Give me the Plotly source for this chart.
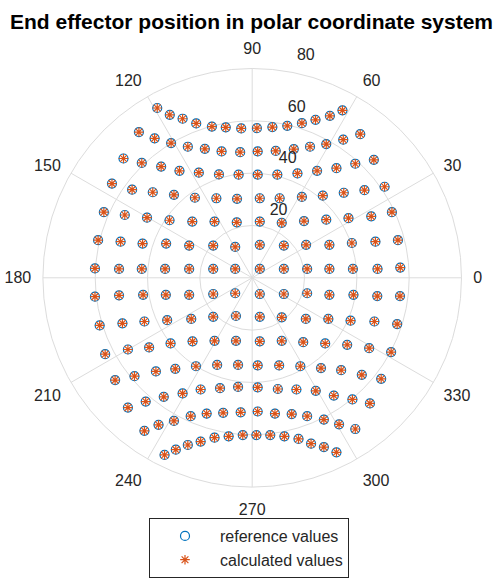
import numpy as np
import plotly.graph_objects as go

# End effector positions (Cartesian, same units as the radial axis), one list per row
x_pos = [
    [-36.3, -31.5, -26.6, -21.4, -15.4, -10.1, -4.2, 1.8, 7.7, 13.4, 19.0, 24.2, 29.7, 34.5],
    [-43.3, -37.3, -31.0, -24.6, -18.1, -11.7, -4.6, 2.1, 9.0, 15.9, 22.1, 28.3, 34.8, 41.3],
    [-49.2, -42.2, -34.8, -27.8, -20.4, -12.7, -5.2, 2.1, 9.6, 17.3, 24.8, 32.2, 39.4, 46.5],
    [-53.6, -45.9, -38.0, -29.9, -21.9, -13.7, -5.8, 2.9, 10.5, 19.0, 27.0, 35.0, 42.9, 50.6],
    [-56.7, -48.7, -40.2, -31.6, -22.9, -14.4, -5.9, 2.9, 11.3, 19.8, 28.3, 36.8, 45.5, 53.4],
    [-58.9, -50.3, -41.9, -32.9, -24.1, -14.9, -6.5, 2.9, 12.1, 20.6, 29.5, 38.1, 47.1, 55.7],
    [-60.1, -50.9, -42.2, -33.3, -24.1, -14.9, -6.5, 2.9, 12.1, 21.0, 29.5, 38.5, 47.9, 56.6],
    [-60.1, -50.9, -41.7, -33.0, -24.1, -14.9, -6.5, 2.9, 12.1, 21.0, 29.5, 38.7, 47.8, 56.5],
    [-58.3, -49.6, -41.2, -32.5, -23.3, -14.9, -6.2, 2.9, 11.3, 20.5, 29.1, 37.6, 46.7, 55.4],
    [-56.2, -47.5, -39.4, -31.2, -22.8, -14.4, -6.2, 2.9, 11.3, 19.5, 27.9, 36.3, 44.7, 53.1],
    [-52.4, -45.0, -36.8, -29.4, -21.5, -13.4, -5.4, 2.1, 10.3, 18.4, 26.3, 34.0, 41.9, 49.3],
    [-47.5, -40.7, -33.8, -26.6, -19.7, -12.3, -5.4, 2.1, 9.8, 16.9, 24.3, 31.2, 38.3, 45.0],
    [-41.2, -35.8, -29.9, -23.5, -17.4, -11.1, -4.4, 2.1, 8.7, 15.1, 21.0, 27.4, 33.2, 39.4],
    [-33.5, -29.2, -24.6, -19.7, -14.4, -9.0, -3.6, 1.6, 6.9, 12.3, 17.7, 22.5, 27.4, 32.2],
]
y_pos = [
    [64.9, 62.3, 60.8, 59.0, 57.8, 57.5, 57.1, 57.2, 57.6, 58.1, 59.1, 60.4, 61.9, 64.0],
    [55.7, 53.3, 51.5, 50.1, 49.3, 48.3, 48.0, 48.3, 48.5, 49.2, 50.1, 51.1, 52.8, 54.9],
    [45.6, 43.9, 42.5, 40.9, 40.2, 39.5, 39.4, 39.4, 39.4, 39.9, 40.9, 41.9, 43.6, 45.1],
    [36.0, 33.7, 32.7, 31.7, 30.6, 30.4, 30.2, 30.4, 30.4, 30.9, 31.4, 32.5, 33.5, 34.8],
    [25.1, 24.0, 23.0, 22.0, 21.5, 21.5, 21.2, 21.5, 21.0, 21.7, 22.2, 22.8, 23.5, 25.1],
    [14.4, 13.8, 13.1, 13.1, 12.3, 12.3, 11.8, 12.6, 12.3, 12.6, 12.6, 13.3, 13.8, 14.4],
    [3.6, 3.4, 3.4, 3.4, 3.4, 3.4, 3.4, 3.4, 3.4, 3.4, 3.4, 3.4, 3.4, 3.9],
    [-7.2, -6.7, -6.5, -6.5, -6.5, -6.2, -5.9, -6.2, -6.2, -5.9, -6.5, -6.5, -7.0, -7.0],
    [-18.2, -17.4, -16.7, -16.2, -15.7, -14.9, -14.6, -14.9, -15.1, -15.7, -15.7, -16.4, -16.7, -17.7],
    [-29.2, -27.4, -26.6, -25.1, -24.3, -24.1, -24.1, -24.3, -24.1, -24.6, -25.1, -25.6, -26.9, -28.4],
    [-39.1, -37.6, -35.8, -34.8, -33.8, -33.3, -33.3, -33.5, -33.5, -33.8, -34.5, -35.3, -37.1, -38.6],
    [-49.6, -47.3, -45.5, -44.2, -42.7, -42.2, -41.7, -41.9, -42.5, -42.7, -43.2, -45.0, -46.5, -48.0],
    [-58.5, -56.2, -54.7, -52.9, -51.9, -51.6, -51.4, -51.1, -51.9, -52.1, -52.9, -54.2, -56.0, -57.8],
    [-67.7, -65.7, -63.9, -62.6, -61.1, -60.6, -60.1, -60.1, -60.1, -60.6, -61.6, -63.4, -64.7, -66.7],
]

angle_ticks = [0, 30, 60, 90, 120, 150, 180, 210, 240, 270, 300, 330]
radius_ticks = [20, 40, 60, 80]

x = np.concatenate([np.array(row) for row in x_pos])
y = np.concatenate([np.array(row) for row in y_pos])
r = np.hypot(x, y)
theta = np.degrees(np.arctan2(y, x))

FONT = "Liberation Sans, Arial, Helvetica, sans-serif"
TXT = "#262626"
GRID = "#dcdcdc"

fig = go.Figure()
fig.add_trace(go.Scatterpolar(
    r=r, theta=theta, mode="markers", name="reference values",
    marker=dict(symbol="circle-open", size=9, color="#0072BD", line=dict(width=1.2, color="#0072BD")),
))
fig.add_trace(go.Scatterpolar(
    r=r, theta=theta, mode="markers", name="calculated values",
    marker=dict(symbol="asterisk-open", size=8, color="#D95319", line=dict(width=1.2, color="#D95319")),
))

W, H = 497, 578
cx, cy, R = 252.2, 277.8, 209.3
fig.update_layout(
    width=W, height=H,
    margin=dict(l=0, r=0, t=0, b=0, autoexpand=False),
    paper_bgcolor="white",
    font=dict(family=FONT, color=TXT, size=16),
    title=dict(
        text="<b>End effector position in polar coordinate system</b>",
        x=251.5 / W, xanchor="center", xref="paper",
        y=1 - 22 / H, yanchor="middle", yref="container",
        font=dict(family=FONT, size=21, color="black"),
    ),
    polar=dict(
        domain=dict(x=[(cx - R) / W, (cx + R) / W], y=[(H - cy - R) / H, (H - cy + R) / H]),
        bgcolor="white",
        angularaxis=dict(
            rotation=0, direction="counterclockwise",
            tickmode="array", tickvals=angle_ticks, ticktext=[str(a) for a in angle_ticks],
            showgrid=True, gridcolor=GRID, gridwidth=1,
            showline=True, linecolor=GRID, linewidth=1,
            ticks="outside", ticklen=8, tickcolor="rgba(0,0,0,0)",
            tickfont=dict(size=16, color=TXT),
        ),
        radialaxis=dict(
            range=[0, 80], angle=80, side="clockwise", tickangle=80,
            tickmode="array", tickvals=radius_ticks,
            # labels sit just outside their circle, above the tick point
            ticktext=[f"{v}<br> <br> " for v in radius_ticks],
            showgrid=True, gridcolor=GRID, gridwidth=1,
            showline=False, ticks="", tickfont=dict(size=16, color=TXT),
        ),
    ),
    legend=dict(
        x=249 / W, xanchor="center", y=0, yanchor="bottom",
        bordercolor=TXT, borderwidth=1, bgcolor="white", itemwidth=60,
        font=dict(family=FONT, size=16, color=TXT),
    ),
)

fig.write_html("out.html")
